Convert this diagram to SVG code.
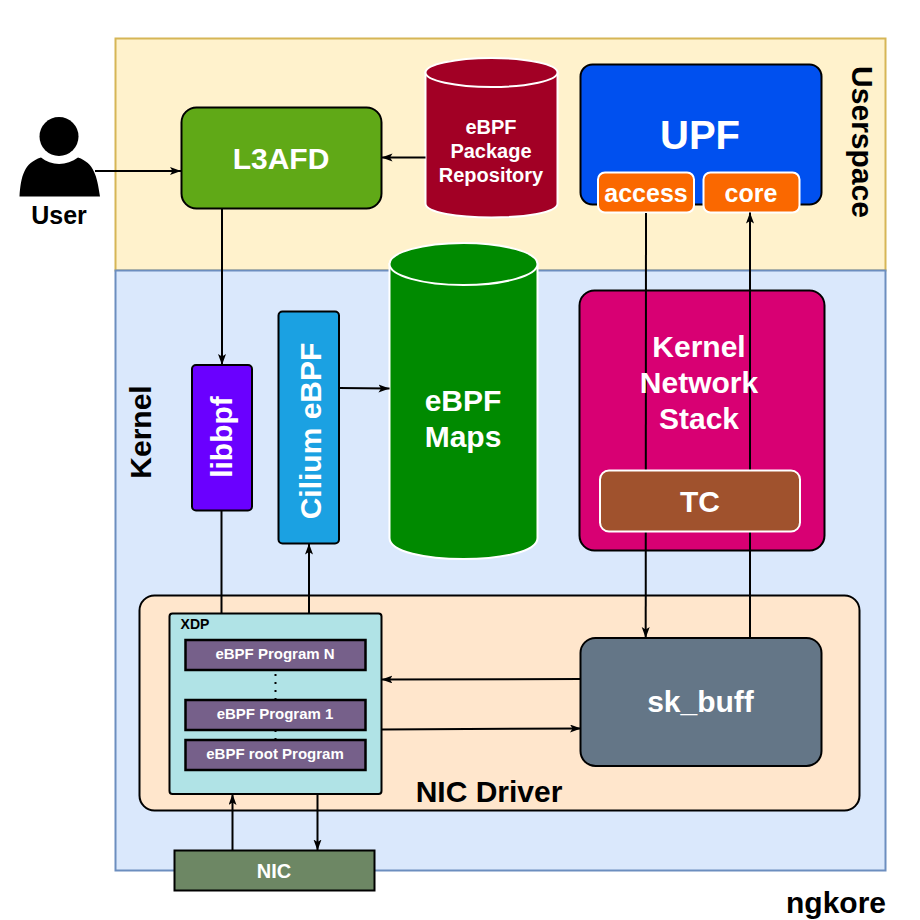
<svg xmlns="http://www.w3.org/2000/svg" width="920" height="920" viewBox="0 0 920 920">
<style>
text{font-family:"Liberation Sans",Arial,sans-serif;font-weight:bold;text-anchor:middle;fill:#fff}
.k{fill:#000}
.s{stroke:#000;stroke-width:2}
.w{stroke:#fff;stroke-width:2}
.c{fill:none;stroke:#000;stroke-width:2;marker-end:url(#a)}
.l{fill:none;stroke:#000;stroke-width:2}
.p{fill:#76608a;stroke:#000;stroke-width:2.500}
</style>
<defs><marker id="a" markerUnits="userSpaceOnUse" markerWidth="12" markerHeight="10" refX="11" refY="4" orient="auto"><path d="M0 0L11 4L0 8L2.500 4Z" fill="#000"/></marker></defs>
<rect width="920" height="920" fill="#fff"/>
<g id="userspace"><rect x="115.500" y="38.500" width="770" height="232" fill="#fff2cc" stroke="#d6b656" stroke-width="2"/><text class="k" transform="translate(852 142) rotate(90)" font-size="30">Userspace</text></g>
<g id="kernel"><rect x="115.500" y="270.500" width="770" height="600" fill="#dae8fc" stroke="#6c8ebf" stroke-width="2"/><text class="k" transform="translate(150.500 432) rotate(-90)" font-size="30">Kernel</text></g>
<g id="user"><circle cx="59" cy="136.500" r="19.500" fill="#000"/><path d="M19.500 196.500C21 176 24 163 41 157.500C51 166 67 166 78 157.500C94 163 97 176 100 196.500Z" fill="#000"/><text class="k" x="59" y="224" font-size="25">User</text></g>
<g id="l3afd"><rect class="s" x="181.500" y="107.500" width="200" height="101" rx="15" fill="#60a917"/><text x="281" y="169" font-size="30">L3AFD</text></g>
<g id="repo"><path class="w" d="M425.500 72.500V203.500C425.500 222 557.500 222 557.500 203.500V72.500Z" fill="#a20025"/><ellipse class="w" cx="491.500" cy="72.500" rx="66" ry="14.500" fill="#a20025"/><text font-size="20"><tspan x="491" y="134">eBPF</tspan><tspan x="491" y="158">Package</tspan><tspan x="491" y="182">Repository</tspan></text></g>
<g id="upf"><rect class="s" x="580.500" y="64.500" width="241" height="140" rx="12" fill="#0050ef"/><text x="700" y="149" font-size="40">UPF</text></g>
<g id="access"><rect class="w" x="598" y="172.500" width="96" height="40" rx="7" fill="#fa6800"/><text x="646" y="202" font-size="25">access</text></g>
<g id="core"><rect class="w" x="703.500" y="172.500" width="96" height="40" rx="7" fill="#fa6800"/><text x="751" y="202" font-size="25">core</text></g>
<g id="libbpf"><rect class="s" x="192" y="365" width="60" height="145.500" rx="4" fill="#6a00ff"/><text transform="translate(232 437) rotate(-90)" font-size="30">libbpf</text></g>
<g id="cilium"><rect class="s" x="278.500" y="311.500" width="60.500" height="232" rx="4" fill="#1ba1e2"/><text transform="translate(320.500 431) rotate(-90)" font-size="30">Cilium eBPF</text></g>
<g id="maps"><path class="w" d="M389.500 264V538C389.500 566 537.500 566 537.500 538V264Z" fill="#008a00"/><ellipse class="w" cx="463.500" cy="264" rx="74" ry="21" fill="#008a00"/><text font-size="30"><tspan x="463" y="411">eBPF</tspan><tspan x="463" y="447">Maps</tspan></text></g>
<g id="stack"><rect class="s" x="579.500" y="290.500" width="245" height="260" rx="15" fill="#d80073"/></g>
<g id="driver"><rect class="s" x="139.500" y="595.500" width="720" height="215" rx="15" fill="#ffe6cc"/><text class="k" x="489" y="802" font-size="30">NIC Driver</text></g>
<g id="xdp"><rect class="s" x="169.500" y="613.500" width="212" height="180.500" rx="3" fill="#b0e3e6"/><text class="k" x="195" y="629" font-size="14">XDP</text></g>
<g id="skbuff"><rect class="s" x="580.500" y="638" width="241" height="128" rx="15" fill="#647687"/><text x="700.500" y="712" font-size="30">sk_buff</text></g>
<g id="connectors">
<path class="c" d="M95 171H181"/>
<path class="c" d="M425.500 157.500H381.500"/>
<path class="c" d="M222 208.500V365"/>
<path class="c" d="M339 388L389.500 388.500"/>
<path class="l" d="M221.500 510.500V613.500"/>
<path class="c" d="M309 613.500V543.500"/>
<path class="c" d="M646 213L645.700 638"/>
<path class="c" d="M750 638V212.500"/>
<path class="c" d="M581 679L381.500 679.500"/>
<path class="c" d="M381.500 729.500L581 728.500"/>
<path class="c" d="M232.500 850.500V794"/>
<path class="c" d="M317.500 794V850.500"/>
<path d="M275.500 674V740" fill="none" stroke="#000" stroke-width="2" stroke-dasharray="2 6"/>
</g>
<g id="stack-label"><text font-size="30"><tspan x="699" y="357">Kernel</tspan><tspan x="699" y="393">Network</tspan><tspan x="699" y="429">Stack</tspan></text></g>
<g id="tc"><rect class="w" x="600" y="470.500" width="200" height="61" rx="9" fill="#a0522d"/><text x="700" y="512" font-size="30">TC</text></g>
<g id="prog-n"><rect class="p" x="185.500" y="640" width="180" height="30"/><text x="275" y="659" font-size="15">eBPF Program N</text></g>
<g id="prog-1"><rect class="p" x="185.500" y="700" width="180" height="30"/><text x="275" y="719" font-size="15">eBPF Program 1</text></g>
<g id="prog-root"><rect class="p" x="185.500" y="740" width="180" height="30"/><text x="275" y="759" font-size="15">eBPF root Program</text></g>
<g id="nic"><rect x="174.500" y="850.500" width="200" height="40" fill="#6d8764" stroke="#000" stroke-width="2"/><text x="274" y="878" font-size="20">NIC</text></g>
<text class="k" x="836" y="913" font-size="30">ngkore</text>
</svg>
